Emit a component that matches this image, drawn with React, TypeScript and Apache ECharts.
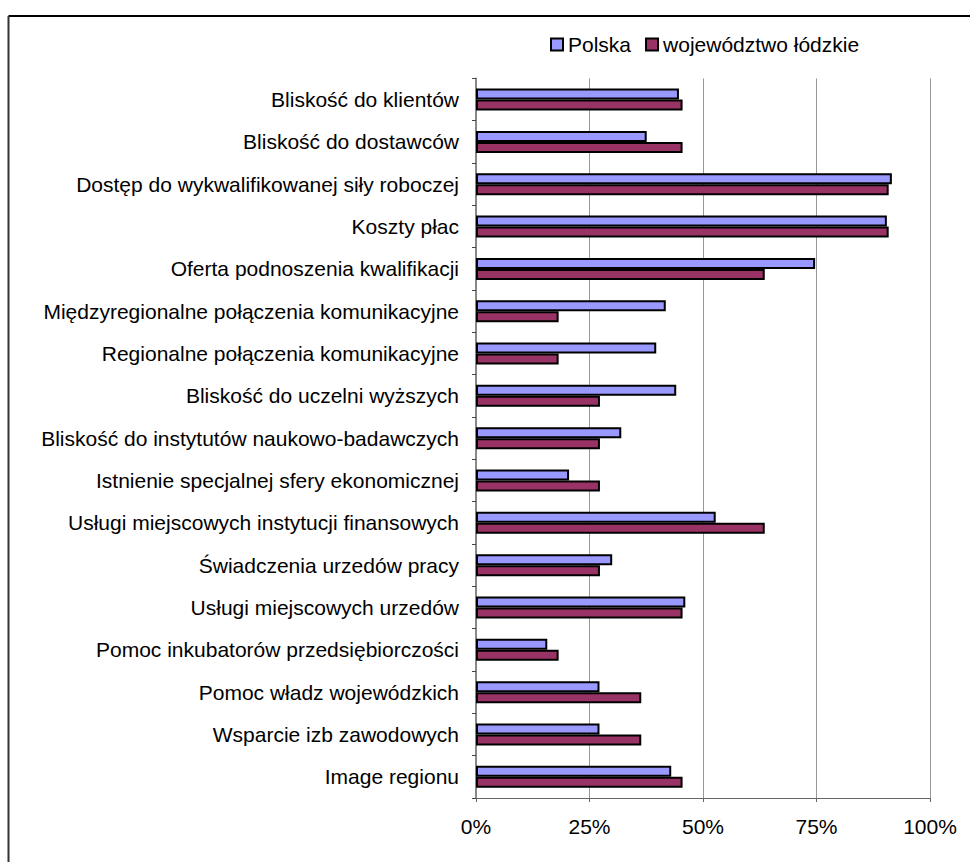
import React, { useEffect, useRef } from "react";
import * as echarts from "echarts";

const categories = [
  "Bliskość do klientów",
  "Bliskość do dostawców",
  "Dostęp do wykwalifikowanej siły roboczej",
  "Koszty płac",
  "Oferta podnoszenia kwalifikacji",
  "Międzyregionalne połączenia komunikacyjne",
  "Regionalne połączenia komunikacyjne",
  "Bliskość do uczelni wyższych",
  "Bliskość do instytutów naukowo-badawczych",
  "Istnienie specjalnej sfery ekonomicznej",
  "Usługi miejscowych instytucji finansowych",
  "Świadczenia urzedów pracy",
  "Usługi miejscowych urzedów",
  "Pomoc inkubatorów przedsiębiorczości",
  "Pomoc władz wojewódzkich",
  "Wsparcie izb zawodowych",
  "Image regionu",
];

const polska = [44.7, 37.6, 91.6, 90.5, 74.7, 41.8, 39.7, 44.1, 32.0, 20.5, 52.8, 30.0, 46.1, 15.7, 27.2, 27.2, 43.0];
const lodzkie = [45.5, 45.5, 90.9, 90.9, 63.6, 18.2, 18.2, 27.3, 27.3, 27.3, 63.6, 27.3, 45.5, 18.2, 36.4, 36.4, 45.5];

const xTicks = [0, 25, 50, 75, 100];

export default function App() {
  const ref = useRef<HTMLDivElement>(null);
  useEffect(() => {
    if (!ref.current) return;
    const chart = echarts.init(ref.current, undefined, { renderer: "svg" });
    const font = "'Liberation Sans', Arial, sans-serif";
    chart.setOption({
      animation: false,
      backgroundColor: "#ffffff",
      textStyle: { fontFamily: font },
      graphic: [
        { type: "line", shape: { x1: 8.5, y1: 16, x2: 980, y2: 16 }, style: { stroke: "#000", lineWidth: 2 } },
        { type: "line", shape: { x1: 8.5, y1: 16, x2: 8.5, y2: 880 }, style: { stroke: "#333", lineWidth: 2 } },
      ],
      legend: {
        left: 545,
        top: 29,
        icon: "rect",
        itemWidth: 12,
        itemHeight: 12,
        itemGap: 14,
        textStyle: { fontSize: 21, color: "#000", fontFamily: font },
        itemStyle: { borderColor: "#000", borderWidth: 2 },
        data: ["Polska", "województwo łódzkie"],
      },
      grid: { left: 476, right: 40, top: 78.4, bottom: 64, containLabel: false },
      xAxis: {
        type: "value",
        min: xTicks[0],
        max: xTicks[xTicks.length - 1],
        interval: 25,
        axisLine: { show: true, lineStyle: { color: "#666", width: 1 } },
        axisTick: { show: true, length: 4, lineStyle: { color: "#666" } },
        axisLabel: { formatter: "{value}%", fontSize: 21, color: "#000", margin: 18, fontFamily: font },
        splitLine: { show: true, lineStyle: { color: "#999", width: 1 } },
      },
      yAxis: {
        type: "category",
        data: categories,
        inverse: true,
        axisLine: { show: true, lineStyle: { color: "#888", width: 2 } },
        axisTick: { show: true, length: 4, lineStyle: { color: "#444" } },
        axisLabel: { fontSize: 21, color: "#000", margin: 17, fontFamily: font },
        splitLine: { show: false },
      },
      series: [
        {
          name: "Polska",
          type: "bar",
          data: polska,
          barWidth: 11,
          barGap: "0%",
          itemStyle: { color: "#9999FF", borderColor: "#000", borderWidth: 2 },
        },
        {
          name: "województwo łódzkie",
          type: "bar",
          data: lodzkie,
          barWidth: 11,
          barGap: "0%",
          itemStyle: { color: "#993366", borderColor: "#000", borderWidth: 2 },
        },
      ],
    });
    return () => chart.dispose();
  }, []);
  return <div ref={ref} style={{ position: "absolute", left: 0, top: 0, width: 970, height: 862 }} />;
}
